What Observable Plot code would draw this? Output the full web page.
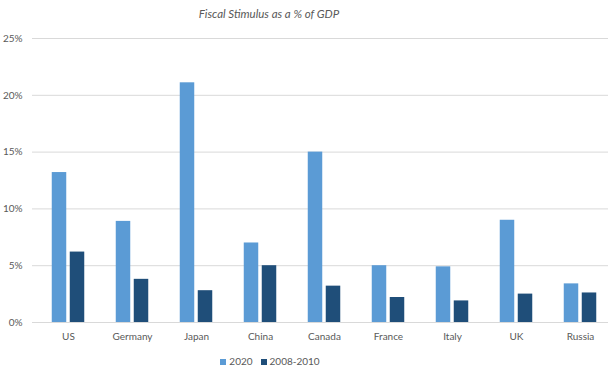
<!DOCTYPE html>
<html>
<head>
<meta charset="utf-8">
<script src="https://cdn.jsdelivr.net/npm/d3@7"></script>
<script src="https://cdn.jsdelivr.net/npm/@observablehq/plot@0.6"></script>
<style>
  body { margin: 0; background: #fff; font-family: Lato, sans-serif; }
  #wrap { width: 608px; }
  .title { width: 538px; height: 26px; line-height: 28px; text-align: center; font-style: italic; font-size: 11.5px; color: #595959; }
  .legend { width: 540px; display: flex; justify-content: center; gap: 8px; font-size: 10px; color: #595959; height: 17px; align-items: center; }
  .legend span.sw { display: inline-block; width: 6px; height: 6px; margin-right: 3px; }
</style>
</head>
<body>
<div id="wrap">
  <div class="title">Fiscal Stimulus as a % of GDP</div>
  <div id="chart"></div>
  <div class="legend" id="legend"></div>
</div>
<script>
const countries = ["US", "Germany", "Japan", "China", "Canada", "France", "Italy", "UK", "Russia"];
const series = ["2020", "2008-2010"];
const values2020 = [13.2, 8.9, 21.1, 7.0, 15.0, 5.0, 4.9, 9.0, 3.4];
const values2008 = [6.2, 3.8, 2.8, 5.0, 3.2, 2.2, 1.9, 2.5, 2.6];
const yTicks = [0, 5, 10, 15, 20, 25];
const colors = ["#5B9BD5", "#1F4E79"];

const d2020 = countries.map((c, i) => ({country: c, value: values2020[i]}));
const d2008 = countries.map((c, i) => ({country: c, value: values2008[i]}));

const chart = Plot.plot({
  width: 608,
  height: 326,
  marginLeft: 32,
  marginRight: 0,
  marginTop: 12,
  marginBottom: 30,
  style: {fontFamily: "Lato, sans-serif", fontSize: "10px", color: "#595959"},
  x: {domain: countries, padding: 0, range: [36.3, 612.3], label: null},
  y: {domain: [0, 25], label: null},
  marks: [
    Plot.ruleY(yTicks, {stroke: "#d9d9d9", strokeOpacity: 1}),
    Plot.barY(d2020, {x: "country", y: "value", fill: colors[0], insetLeft: 24.75, insetRight: 24.75, dx: -9}),
    Plot.barY(d2008, {x: "country", y: "value", fill: colors[1], insetLeft: 24.75, insetRight: 24.75, dx: 9}),
    Plot.axisX({tickSize: 0, tickPadding: 10}),
    Plot.axisY({ticks: yTicks, tickSize: 0, tickPadding: 10, tickFormat: d => d + "%"})
  ]
});
document.getElementById("chart").appendChild(chart);

const legend = document.getElementById("legend");
series.forEach((s, i) => {
  const item = document.createElement("div");
  item.innerHTML = `<span class="sw" style="background:${colors[i]}"></span>${s}`;
  legend.appendChild(item);
});
</script>
</body>
</html>
